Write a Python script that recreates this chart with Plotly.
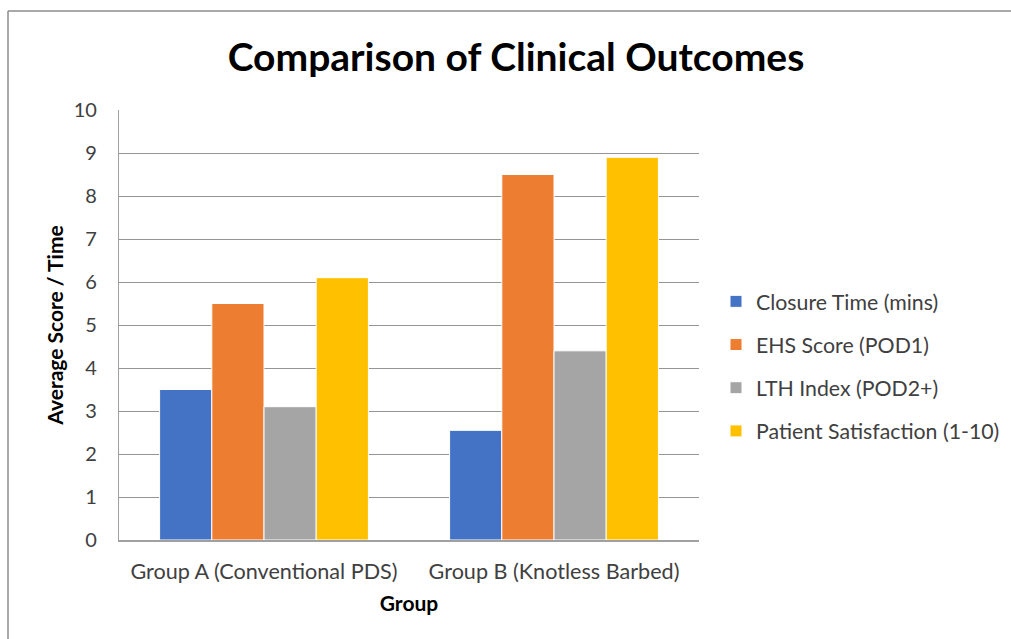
import plotly.graph_objects as go

categories = ["Group A (Conventional PDS)", "Group B (Knotless Barbed)"]
series_names = ["Closure Time (mins)", "EHS Score (POD1)", "LTH Index (POD2+)", "Patient Satisfaction (1-10)"]
closure_time = [3.5, 2.55]
ehs_score = [5.5, 8.5]
lth_index = [3.1, 4.4]
patient_satisfaction = [6.1, 8.9]
colors = ["#4472C4", "#ED7D31", "#A5A5A5", "#FFC000"]
y_ticks = list(range(0, 11))

W, H = 1011, 639
L, R, T, B = 119, 699, 110, 540
FONT = "Lato"

def px_x(p):
    return (p - L) / (R - L)

def px_y(p):
    return (B - p) / (B - T)

fig = go.Figure()
for i, (name, vals) in enumerate(zip(series_names, [closure_time, ehs_score, lth_index, patient_satisfaction])):
    fig.add_trace(go.Bar(
        x=categories, y=vals, name=name,
        marker=dict(color=colors[i], line=dict(color="white", width=1)),
        legendgroup=f"g{i}",
    ))

fig.update_layout(
    width=W, height=H,
    margin=dict(l=L, r=W - R, t=T, b=H - B, pad=0, autoexpand=False),
    paper_bgcolor="white", plot_bgcolor="white",
    barmode="group", bargap=0.28, bargroupgap=0,
    font=dict(family=FONT, color="#404040", size=21),
    title=dict(text="<b>Comparison of Clinical Outcomes</b>", x=516 / W, xanchor="center",
               y=1 - 57 / H, yanchor="middle",
               font=dict(family=FONT, size=39, color="black")),
    legend=dict(x=px_x(716), y=px_y(281), xanchor="left", yanchor="top",
                font=dict(family=FONT, size=21.3, color="#404040"),
                traceorder="grouped", tracegroupgap=12.5, itemwidth=30,
                bgcolor="rgba(0,0,0,0)"),
    xaxis=dict(
        showline=True, linecolor="#a0a0a0", linewidth=1.5,
        ticks="", tickfont=dict(family=FONT, size=21.6, color="#404040"),
        ticklabelstandoff=11,
        title=dict(text="<b>Group</b>", font=dict(family=FONT, size=21, color="black"), standoff=14),
    ),
    yaxis=dict(
        range=[0, 10], tickvals=y_ticks, ticks="", ticklen=0,
        showgrid=True, gridcolor="#959595", gridwidth=1.3,
        showline=True, linecolor="#a0a0a0", linewidth=1.3,
        zeroline=False,
        tickfont=dict(family=FONT, size=20, color="#404040"),
        ticklabelstandoff=17,
        title=dict(text="<b>Average Score / Time</b>", font=dict(family=FONT, size=21, color="black"), standoff=4),
    ),
    showlegend=True,
)

line_style = dict(color="#8c8c8c", width=1.5)
fig.add_shape(type="line", xref="paper", yref="paper",
              x0=px_x(8), x1=px_x(1100), y0=px_y(11), y1=px_y(11), line=line_style, layer="below")
fig.add_shape(type="line", xref="paper", yref="paper",
              x0=px_x(8), x1=px_x(8), y0=px_y(11), y1=px_y(700), line=line_style, layer="below")

fig.write_html("out.html")
